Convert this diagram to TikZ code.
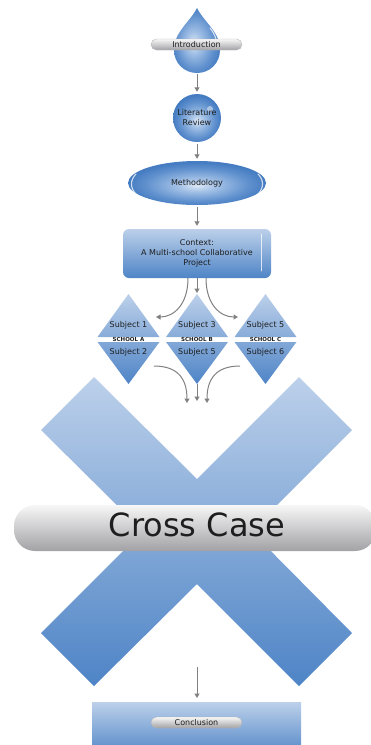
\documentclass[tikz,border=0pt]{standalone}
\usepackage{fontspec}
\setmainfont{DejaVu Sans}
\usetikzlibrary{arrows.meta,shapes.geometric}

\definecolor{paleblue}{HTML}{BCD0EA}
\definecolor{midblue}{HTML}{4E84C6}
\definecolor{glowblue}{HTML}{DCE8F6}
\definecolor{softblue}{HTML}{A3C1E6}
\definecolor{bodyblue}{HTML}{6393CF}
\definecolor{rimblue}{HTML}{457CC2}
\definecolor{arrowgray}{HTML}{808080}
\definecolor{ink}{HTML}{1E1E1E}
\definecolor{pilltop}{HTML}{F7F7F7}
\definecolor{pillmid}{HTML}{DDDDDF}
\definecolor{pillbot}{HTML}{A2A2A6}

% glossy blue fill: bright spot a little below the middle, darker rim
% (the path's bounding box covers the central 50bp square of the shading)
\pgfdeclareradialshading{orbshade}{\pgfpoint{0bp}{-3bp}}{%
  color(0bp)=(glowblue); color(7bp)=(softblue); color(18bp)=(bodyblue);
  color(25bp)=(rimblue); color(50bp)=(rimblue)}
% the drop catches its light on the left side
\pgfdeclareradialshading{dropshade}{\pgfpoint{-4bp}{-2bp}}{%
  color(0bp)=(glowblue); color(8bp)=(softblue); color(20bp)=(bodyblue);
  color(28bp)=(rimblue); color(50bp)=(rimblue)}

\tikzset{
  flow/.style={draw=arrowgray, line width=1pt, -{Triangle[width=5pt,length=4.5pt]}},
  lbl/.style={text=ink, font=\fontsize{8}{10}\selectfont, align=center, inner sep=0pt},
  pill/.style={draw=pillbot!80, line width=0.4pt, top color=pilltop, middle color=pillmid,
               bottom color=pillbot, inner sep=0pt},
  gloss/.style={draw=white, draw opacity=0.75, line width=1.1pt, line cap=round},
  bluefade/.style={top color=paleblue, bottom color=midblue},
  orb/.style={shade, shading=orbshade, inner sep=0pt}
}

\begin{document}
\begin{tikzpicture}[x=1pt,y=-1pt]
\useasboundingbox (0,0) rectangle (371,745);

% --- teardrop with its label bar
\shade[shading=dropshade]
  (197,8) .. controls (190,22) and (174,32) .. (174,50)
  .. controls (174,63) and (184,73) .. (197,73)
  .. controls (210,73) and (220,63) .. (220,50)
  .. controls (220,32) and (204,22) .. (197,8) -- cycle;
\draw[gloss] (210,28) .. controls (215,34) and (217,40) .. (217,47);
\coordinate (dropbot) at (197,74);
\node[pill, rounded corners=5.5pt, minimum width=91pt, minimum height=11pt] (introbar) at (196.5,44.5) {};
\node[lbl] (intro) at (196.5,44.5) {Introduction};

% --- literature review
\node[circle, orb, minimum size=48pt] (lit) at (197,118) {};
\fill[white, opacity=0.45] (210,109) circle (3);
\node[lbl] (littext) at (197,118) {Literature\\Review};

% --- methodology
\node[ellipse, orb, minimum width=138pt, minimum height=44pt] (meth) at (197,183) {};
\draw[gloss] (136,174) .. controls (130,180) and (130,188) .. (136,194);
\draw[gloss] (258,174) .. controls (264,180) and (264,188) .. (258,194);
\node[lbl] (methtext) at (197,183) {Methodology};

% --- context box
\node[rectangle, rounded corners=6pt, minimum width=148pt, minimum height=49pt,
      top color=paleblue, bottom color=midblue, lbl] (ctx) at (197,253.5)
      {Context:\\A Multi-school Collaborative\\Project};
\draw[gloss, line width=0.9pt] (261,234) -- (261,271);

% --- the three schools
\foreach \cx/\ta/\sc/\tb [count=\i] in
  {128.5/Subject 1/SCHOOL A/Subject 2, 197/Subject 3/SCHOOL B/Subject 5, 265.5/Subject 5/SCHOOL C/Subject 6} {
  \shade[bluefade]
    (\cx,294) -- (\cx+31,337) -- (\cx-31,337) -- cycle
    (\cx-31,342) -- (\cx+31,342) -- (\cx,384) -- cycle;
  \coordinate (dtop\i) at (\cx,294);
  \coordinate (dbot\i) at (\cx,384);
  \node[lbl] (subup\i) at (\cx,325) {\ta};
  \node[lbl, font=\fontsize{5.5}{6}\selectfont\bfseries] (school\i) at (\cx,339.5) {\sc};
  \node[lbl] (sublo\i) at (\cx,352) {\tb};
}

% --- cross case
\shade[top color=paleblue, bottom color=midblue]
  (94,377) -- (197,479) -- (299,377) -- (352,430) -- (251,531) -- (352,633)
  -- (299,686) -- (197,584) -- (94,686) -- (41,633) -- (143,531) -- (41,430) -- cycle;
\node[pill, draw=none, rounded corners=21pt, minimum width=362pt, minimum height=46pt] (ccbar) at (195,528) {};
\node[text=ink, font=\fontsize{32}{38}\selectfont, inner sep=0pt] (cc) at (197,525) {Cross Case};

% --- conclusion
\shade[top color=paleblue, bottom color=midblue!92!white] (92,702) rectangle (301,750);
\coordinate (conctop) at (197,702);
\node[pill, rounded corners=5.5pt, minimum width=91pt, minimum height=11pt] (concbar) at (196.5,722.5) {};
\node[lbl] (conc) at (196.5,722.5) {Conclusion};

% --- connectors
\coordinate (splitL) at (156,317);
\coordinate (splitR) at (238,317);
\coordinate (fromL) at (154,366);
\coordinate (fromR) at (240,366);
\coordinate (mergeL) at (187,403);
\coordinate (mergeC) at (197,401);
\coordinate (mergeR) at (207,403);
\coordinate (crossout) at (197,667);

\draw[flow] (dropbot) -- ([yshift=2pt]lit.north);
\draw[flow] ([yshift=-2pt]lit.south) -- ([yshift=2pt]meth.north);
\draw[flow] ([yshift=-2pt]meth.south) -- ([yshift=3pt]ctx.north);
\draw[flow] (ctx.south) -- ([yshift=1pt]dtop2);
\draw[flow] ([xshift=-9pt]ctx.south) .. controls +(0,26) and +(18,0) .. (splitL);
\draw[flow] ([xshift=9pt]ctx.south) .. controls +(0,26) and +(-18,0) .. (splitR);
\draw[flow] (dbot2) -- (mergeC);
\draw[flow] (fromL) .. controls +(24,0) and +(0,-24) .. (mergeL);
\draw[flow] (fromR) .. controls +(-24,0) and +(0,-24) .. (mergeR);
\draw[flow] (crossout) -- ([yshift=4pt]conctop);
\end{tikzpicture}
\end{document}
